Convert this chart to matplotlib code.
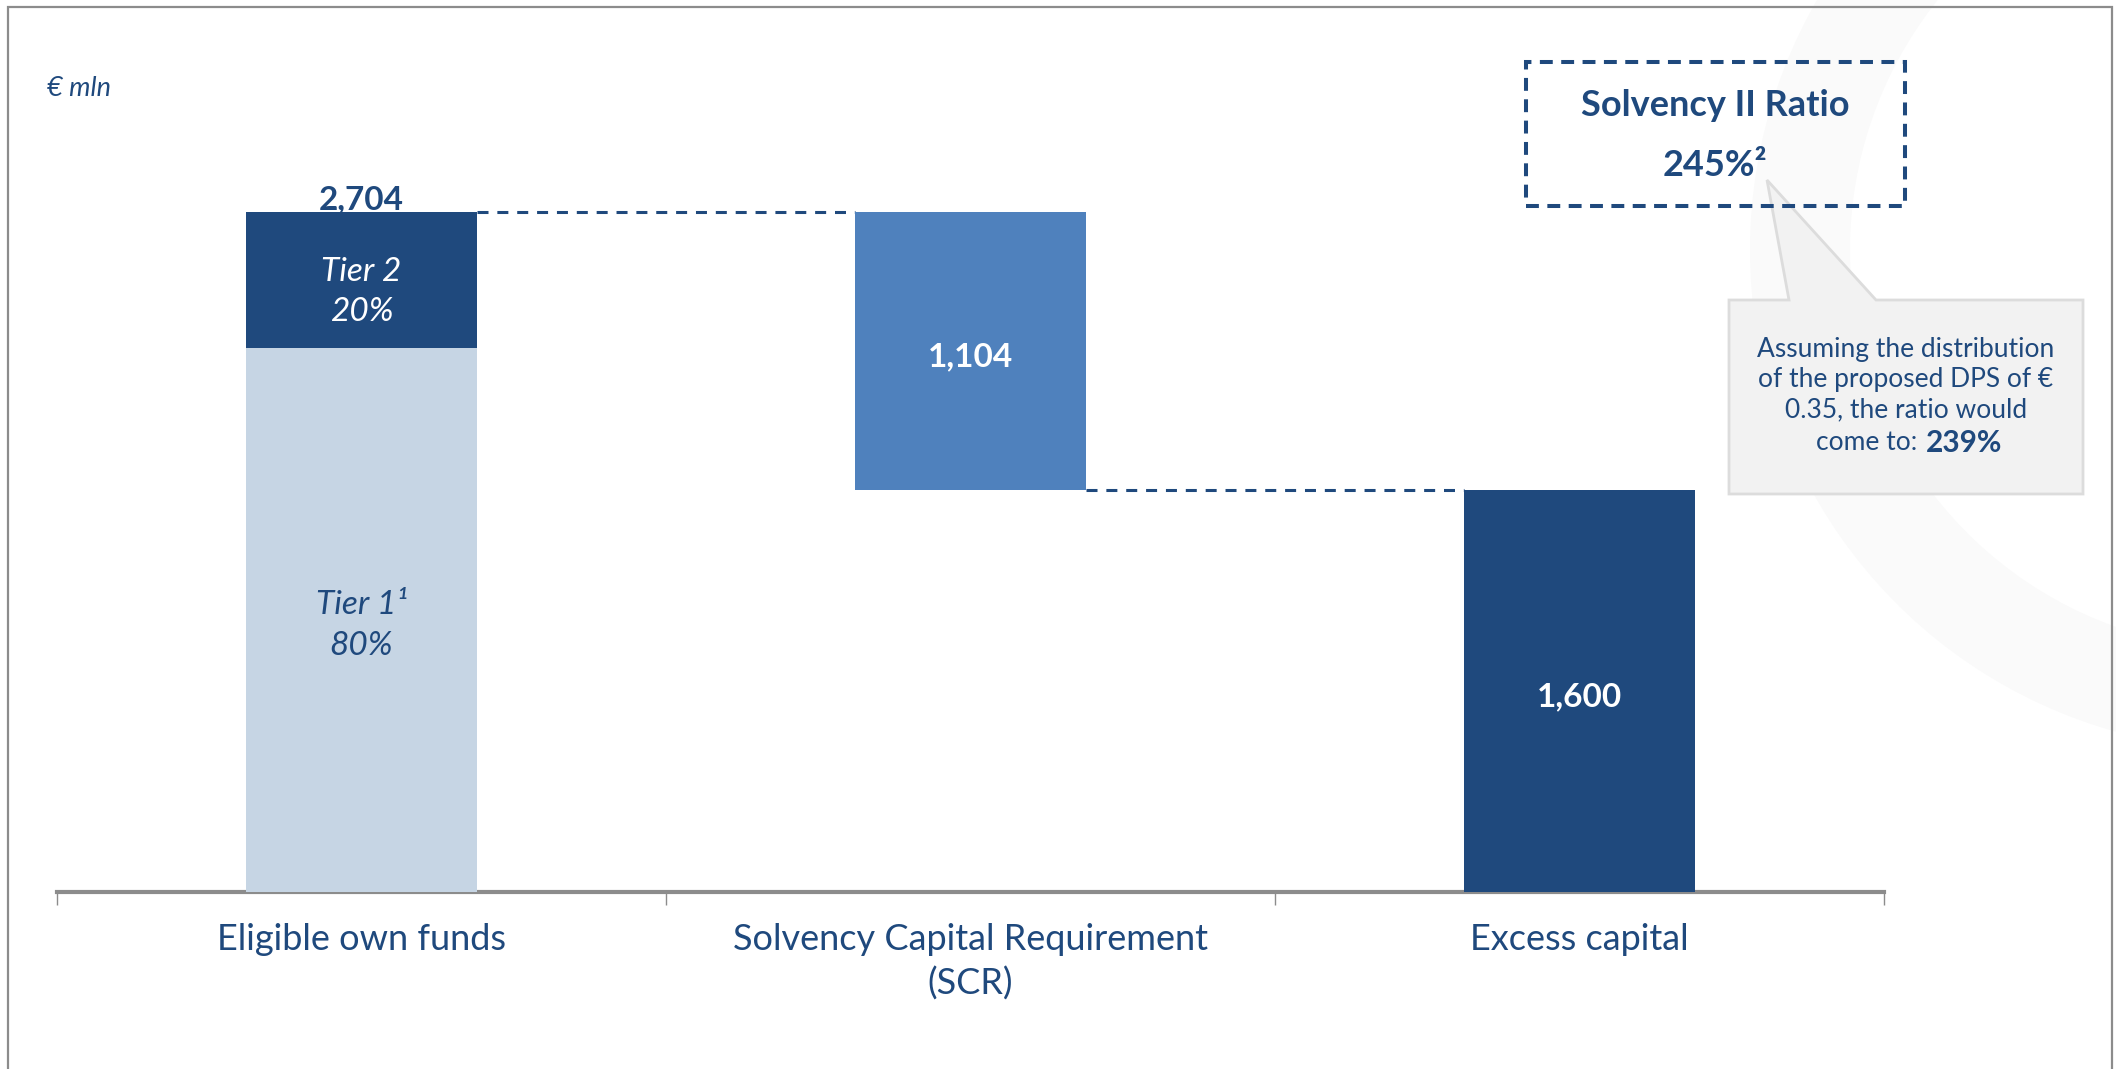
import matplotlib
matplotlib.use("Agg")
import matplotlib.pyplot as plt
from matplotlib.patches import Rectangle, Polygon, Wedge
from matplotlib.transforms import IdentityTransform

# data (EUR mln)
categories = ["Eligible own funds", "Solvency Capital Requirement\n(SCR)", "Excess capital"]
own_funds = 2704
tier_share = [0.80, 0.20]          # Tier 1, Tier 2
scr = 1104
excess = 1600
value_labels = ["2,704", "1,104", "1,600"]
ratio_label = "245%\u00b2"
ratio_after_dps = "239%"

DARK = "#1F497D"
MID = "#4F81BD"
LIGHT = "#C6D5E4"
GREY = "#8C8C8C"

W, H = 2116, 1069
plt.rcParams["font.family"] = ["Lato", "DejaVu Sans"]


def px(x, y):
    # pixel position (origin top-left) -> figure fraction
    return x / W, 1 - y / H


fig = plt.figure(figsize=(W / 100, H / 100), dpi=100)
fig.patch.set_facecolor("white")

# faint watermark ring and slide frame
ring = Wedge((2250, H - 250), 500, 140, 290, width=100, transform=IdentityTransform(),
             facecolor="#FAFAFA", edgecolor="none", zorder=0)
fig.patches.append(ring)
frame = Rectangle(px(8, H + 20), (2112 - 8) / W, (H + 13) / H, transform=fig.transFigure,
                  fill=False, edgecolor=GREY, lw=1.6, zorder=1)
fig.patches.append(frame)

# axes: x from -0.5 to 2.5, zero line at y=892 px, 2704 at y=212 px
scale = (892 - 212) / own_funds
ax = fig.add_axes([57 / W, 1 - 892 / H, (1884 - 57) / W, 892 / H])
ax.set_xlim(-0.5, 2.5)
ax.set_ylim(0, 892 / scale)
ax.patch.set_alpha(0)
for s in ["top", "right", "left"]:
    ax.spines[s].set_visible(False)
ax.spines["bottom"].set_color(GREY)
ax.spines["bottom"].set_linewidth(3)
ax.set_yticks([])
ax.set_xticks([-0.5, 0.5, 1.5, 2.5])
ax.set_xticklabels([])
ax.tick_params(axis="x", direction="out", length=9, width=1, color=GREY)

bw = 0.38
tier1 = own_funds * tier_share[0]
tier2 = own_funds * tier_share[1]
ax.bar(0, tier1, width=bw, color=LIGHT, zorder=3)
ax.bar(0, tier2, bottom=tier1, width=bw, color=DARK, zorder=3)
ax.bar(1, scr, bottom=own_funds - scr, width=bw, color=MID, zorder=3)
ax.bar(2, excess, width=bw, color=DARK, zorder=3)

# dashed connectors
ax.plot([bw / 2, 1 - bw / 2], [own_funds, own_funds], color=DARK, lw=2.2,
        dashes=(3.6, 2.9), zorder=2)
ax.plot([1 + bw / 2, 2 - bw / 2], [excess, excess], color=DARK, lw=2.2,
        dashes=(3.6, 2.9), zorder=2)

# bar labels
ax.annotate(value_labels[0], xy=(0, own_funds), xytext=(0, 2), textcoords="offset points",
            ha="center", va="baseline", fontsize=24, fontweight="bold", color=DARK)
ax.annotate(value_labels[1], xy=(1, own_funds - scr / 2), xytext=(0, -4),
            textcoords="offset points", ha="center", va="center",
            fontsize=24, fontweight="bold", color="white", zorder=4)
ax.annotate(value_labels[2], xy=(2, excess / 2), xytext=(0, -4),
            textcoords="offset points", ha="center", va="center",
            fontsize=24, fontweight="bold", color="white", zorder=4)

t2_mid = tier1 + tier2 / 2
ax.annotate("Tier 2", xy=(0, t2_mid), xytext=(0, 6), textcoords="offset points",
            ha="center", va="center", fontsize=24, style="italic", color="white", zorder=4)
ax.annotate("20%", xy=(0, t2_mid), xytext=(0, -23), textcoords="offset points",
            ha="center", va="center", fontsize=24, style="italic", color="white", zorder=4)
t1_mid = tier1 / 2
ax.annotate("Tier 1\u00b9", xy=(0, t1_mid), xytext=(0, 11), textcoords="offset points",
            ha="center", va="center", fontsize=24, style="italic", color=DARK, zorder=4)
ax.annotate("80%", xy=(0, t1_mid), xytext=(0, -19), textcoords="offset points",
            ha="center", va="center", fontsize=24, style="italic", color=DARK, zorder=4)

# category labels
for i, name in enumerate(categories):
    ax.annotate(name, xy=(i, 0), xytext=(0, -22), textcoords="offset points",
                ha="center", va="top", fontsize=26, color=DARK, linespacing=1.38,
                annotation_clip=False)

# unit
fig.text(*px(47, 88), "\u20ac mln", ha="left", va="center", fontsize=19.5,
         style="italic", color=DARK)

# callout with pointer
callout = Polygon([px(1729, 300), px(1789, 300), px(1767, 180), px(1876, 300),
                   px(2083, 300), px(2083, 494), px(1729, 494)],
                  closed=True, transform=fig.transFigure, facecolor="#F2F2F2",
                  edgecolor="#DCDCDC", lw=2, zorder=5)
fig.patches.append(callout)

# Solvency II box
x0, y0 = px(1526, 206)
box = Rectangle((x0, y0), (1905 - 1526) / W, (206 - 62) / H, transform=fig.transFigure,
                fill=False, edgecolor=DARK, lw=2.9, linestyle=(0, (3.2, 2.1)), zorder=6)
fig.patches.append(box)
fig.text(*px(1715, 105), "Solvency II Ratio", ha="center", va="center", fontsize=26,
         fontweight="bold", color=DARK, zorder=7)
fig.text(*px(1715, 166), ratio_label, ha="center", va="center", fontsize=26,
         fontweight="bold", color=DARK, zorder=7)

callout_lines = ["Assuming the distribution", "of the proposed DPS of \u20ac",
                 "0.35, the ratio would"]
for k, line in enumerate(callout_lines):
    fig.text(*px(1906, 350 + 30 * k), line, ha="center", va="center", fontsize=19,
             color=DARK, zorder=7)
fig.text(*px(1924, 443), "come to: ", ha="right", va="center", fontsize=19,
         color=DARK, zorder=7)
fig.text(*px(1926, 443), ratio_after_dps, ha="left", va="center", fontsize=21.5,
         fontweight="bold", color=DARK, zorder=7)

fig.savefig("out.png", dpi=100)
